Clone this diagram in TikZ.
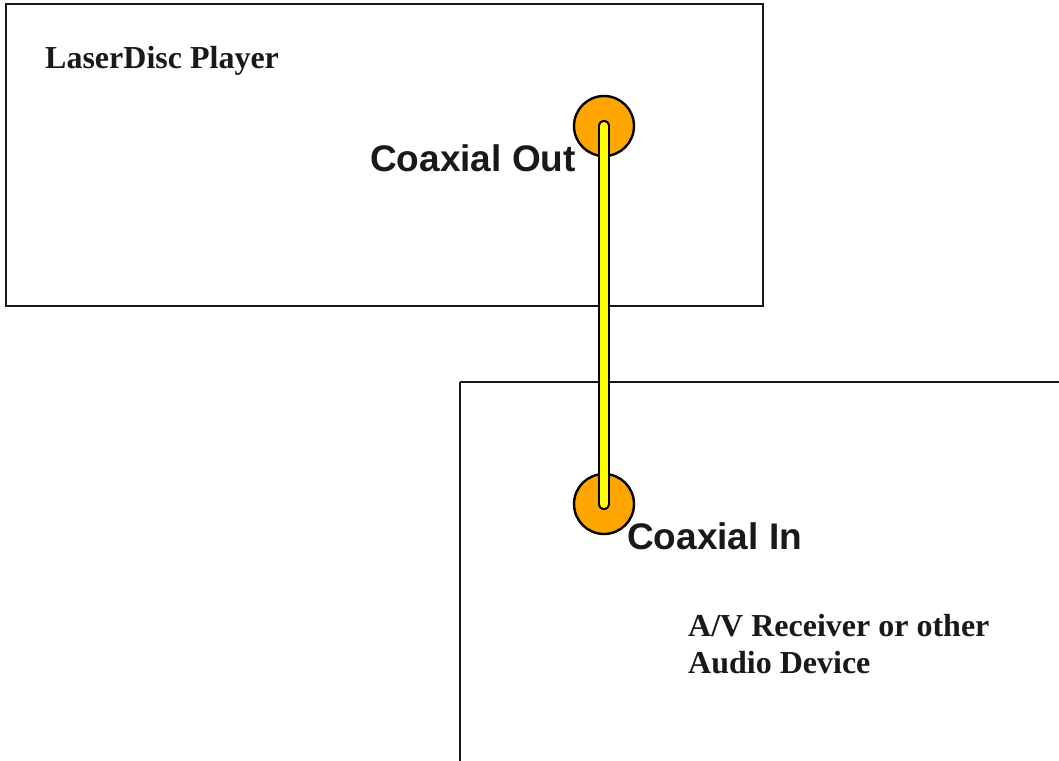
\documentclass[tikz,border=0pt]{standalone}
\usepackage{fontspec}
\setmainfont{Liberation Serif}
\setsansfont{Liberation Sans}
\definecolor{jackorange}{HTML}{FFA500}
\definecolor{cableyellow}{HTML}{FFFF00}
\begin{document}
\begin{tikzpicture}[x=1pt,y=-1pt,
  devbox/.style={draw=black!90,line width=2.4pt},
  jack/.style={circle,draw=black,line width=2.4pt,fill=jackorange,minimum size=60pt,inner sep=0pt},
  devlabel/.style={font=\fontsize{32}{37}\selectfont\bfseries,text=black!90,anchor=base west,inner sep=0pt},
  portlabel/.style={font=\sffamily\fontsize{37}{42}\selectfont\bfseries,text=black!90,anchor=base west,inner sep=0pt}]
\useasboundingbox (0,0) rectangle (1059,760);
\draw[devbox] (6,4) rectangle (763,306);
\draw[devbox] (460,382) -- (1062,382);
\draw[devbox] (460,382) -- (460,763);
\node[devlabel] (lp) at (45,68) {LaserDisc Player};
\node[devlabel] (av1) at (688,636) {A/V Receiver or other};
\node[devlabel] (av2) at (688,673) {Audio Device};
\node[jack] (out) at (604,126) {};
\node[jack] (in) at (604,504) {};
\draw[line width=12pt,line cap=round,black] (out.center) -- (in.center);
\draw[line width=8pt,line cap=round,cableyellow] (out.center) -- (in.center);
\node[portlabel] (co) at (370,171) {Coaxial Out};
\node[portlabel] (ci) at (627,549) {Coaxial In};
\end{tikzpicture}
\end{document}
